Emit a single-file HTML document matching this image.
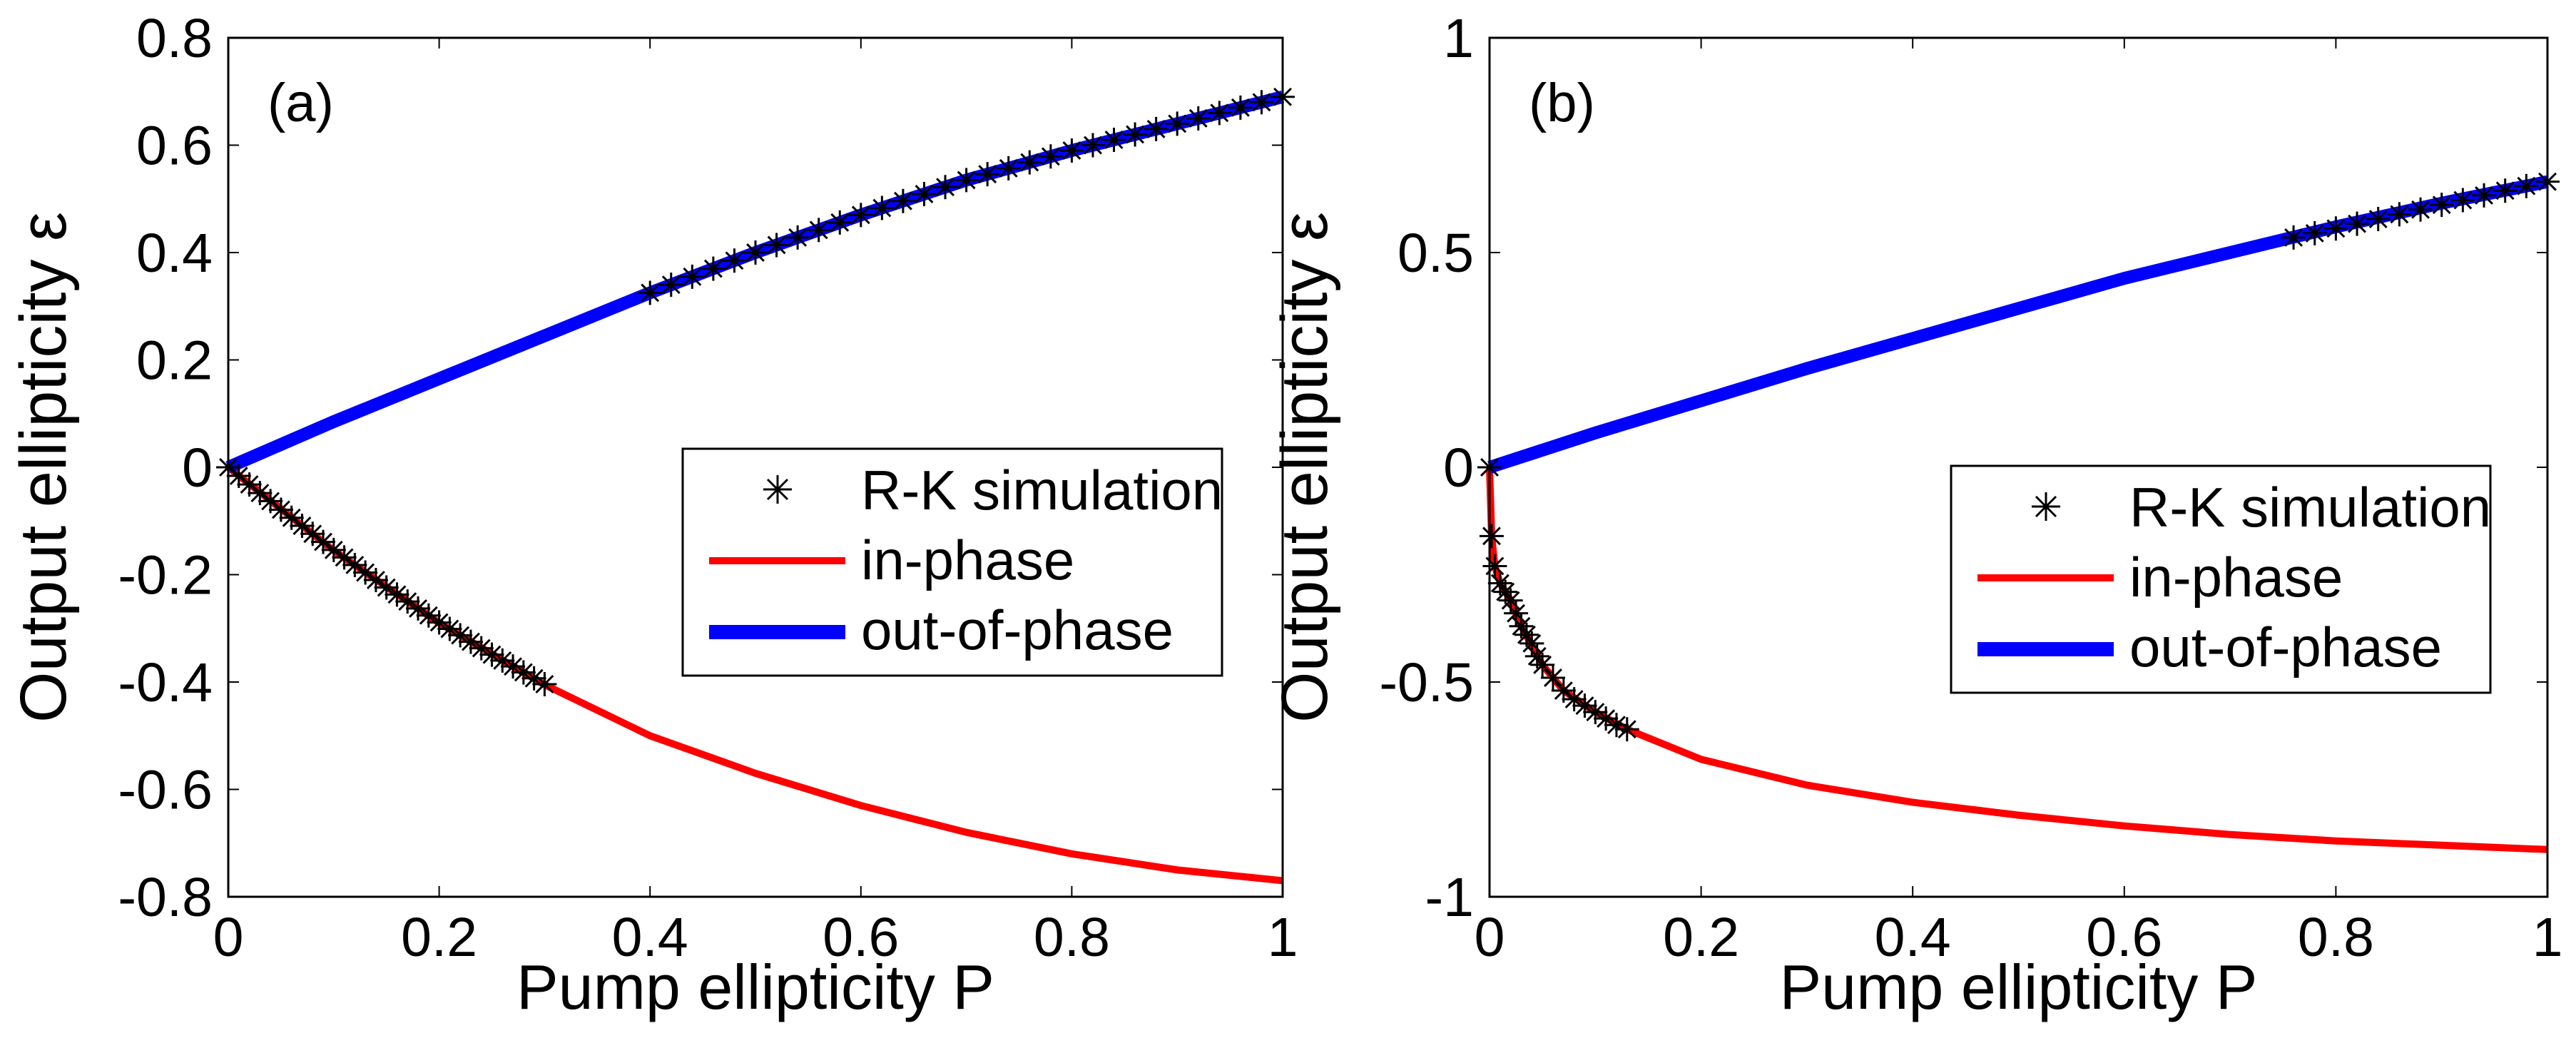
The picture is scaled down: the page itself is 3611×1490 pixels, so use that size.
<!DOCTYPE html>
<html><head><meta charset="utf-8"><style>
html,body{margin:0;padding:0;background:#fff;}
svg{display:block;font-family:"Liberation Sans",Arial,sans-serif;}
</style></head><body>
<svg id="fig" width="3611" height="1490" viewBox="0 0 3611 1490" xmlns="http://www.w3.org/2000/svg">
<rect width="3611" height="1490" fill="#fff"/>
<g id="pa"></g>
<g id="pb"></g>
</svg>
<script>
// ---- data: panel (a)
const aXTicks = [0,0.2,0.4,0.6,0.8,1];
const aXTickLabels = ["0","0.2","0.4","0.6","0.8","1"];
const aYTicks = [-0.8,-0.6,-0.4,-0.2,0,0.2,0.4,0.6,0.8];
const aYTickLabels = ["-0.8","-0.6","-0.4","-0.2","0","0.2","0.4","0.6","0.8"];
const aLineX = [0,0.1,0.2,0.3,0.4,0.5,0.6,0.7,0.8,0.9,1.0];
const aInPhase = [0,-0.155,-0.29,-0.405,-0.5,-0.57,-0.63,-0.68,-0.72,-0.75,-0.77];
const aOutPhase = [0,0.085,0.165,0.245,0.325,0.40,0.47,0.535,0.59,0.64,0.69];
const aRkLowX = [0,.01,.02,.03,.04,.05,.06,.07,.08,.09,.10,.11,.12,.13,.14,.15,.16,.17,.18,.19,.20,.21,.22,.23,.24,.25,.26,.27,.28,.29,.30];
const aRkLowY = [0,-.016,-.032,-.048,-.063,-.079,-.094,-.109,-.124,-.139,-.154,-.168,-.182,-.196,-.210,-.224,-.237,-.250,-.263,-.276,-.289,-.301,-.313,-.325,-.337,-.349,-.360,-.371,-.382,-.393,-.404];
const aRkHighX = [.40,.42,.44,.46,.48,.50,.52,.54,.56,.58,.60,.62,.64,.66,.68,.70,.72,.74,.76,.78,.80,.82,.84,.86,.88,.90,.92,.94,.96,.98,1.00];
const aRkHighY = [.325,.340,.355,.370,.385,.40,.414,.428,.442,.456,.47,.483,.496,.509,.522,.535,.546,.557,.568,.579,.59,.60,.61,.62,.63,.64,.65,.66,.67,.68,.69];
// ---- data: panel (b)
const bXTicks = [0,0.2,0.4,0.6,0.8,1];
const bXTickLabels = ["0","0.2","0.4","0.6","0.8","1"];
const bYTicks = [-1,-0.5,0,0.5,1];
const bYTickLabels = ["-1","-0.5","0","0.5","1"];
const bInX = [0,0.002,0.005,0.01,0.02,0.03,0.05,0.07,0.1,0.13,0.2,0.3,0.4,0.5,0.6,0.7,0.8,0.9,1.0];
const bInPhase = [0,-0.16,-0.23,-0.27,-0.31,-0.37,-0.46,-0.52,-0.57,-0.61,-0.68,-0.74,-0.78,-0.81,-0.835,-0.855,-0.87,-0.88,-0.89];
const bOutX = [0,0.1,0.2,0.3,0.4,0.5,0.6,0.7,0.8,0.9,1.0];
const bOutPhase = [0,0.08,0.155,0.23,0.30,0.37,0.44,0.50,0.56,0.615,0.665];
const bRkLowX = [0,.002,.005,.01,.015,.02,.025,.03,.035,.04,.045,.05,.06,.07,.08,.09,.10,.11,.12,.13];
const bRkLowY = [0,-.16,-.23,-.27,-.29,-.31,-.34,-.37,-.39,-.41,-.44,-.46,-.49,-.52,-.54,-.555,-.57,-.585,-.60,-.61];
const bRkHighX = [.76,.78,.80,.82,.84,.86,.88,.90,.92,.94,.96,.98,1.00];
const bRkHighY = [.535,.545,.556,.567,.578,.589,.60,.611,.622,.633,.644,.655,.665];

const NS = "http://www.w3.org/2000/svg";
function mk(parent, tag, attrs){const e=document.createElementNS(NS,tag);for(const k in attrs)e.setAttribute(k,attrs[k]);parent.appendChild(e);return e;}

function star(g, cx, cy, r, sw){
  return mk(g,'path',{d:`M${cx-r},${cy}H${cx+r}M${cx},${cy-r}V${cy+r}M${cx-r*0.7},${cy-r*0.7}L${cx+r*0.7},${cy+r*0.7}M${cx-r*0.7},${cy+r*0.7}L${cx+r*0.7},${cy-r*0.7}`,stroke:'#000','stroke-width':sw,fill:'none'});
}

function panel(g, cfg){
  const L=cfg.L,R=cfg.R,T=53,B=1257;
  const sx=v=>L+(v-cfg.x0)/(cfg.x1-cfg.x0)*(R-L);
  const sy=v=>B-(v-cfg.y0)/(cfg.y1-cfg.y0)*(B-T);
  const red = mk(g,'polyline',{points:cfg.inX.map((x,i)=>sx(x)+','+sy(cfg.inY[i])).join(' '),fill:'none',stroke:'#ff0000','stroke-width':10,'stroke-linejoin':'round'});
  
  
  const blue = mk(g,'polyline',{points:cfg.outX.map((x,i)=>sx(x)+','+sy(cfg.outY[i])).join(' '),fill:'none',stroke:'#0000ff','stroke-width':18,'stroke-linejoin':'round'});
  
  
  const sg = mk(g,'g',{});
  
  
  cfg.rkLowX.forEach((x,i)=>{const s=star(sg,sx(x),sy(cfg.rkLowY[i]),17,3);
    
    });
  cfg.rkHighX.forEach((x,i)=>{const s=star(sg,sx(x),sy(cfg.rkHighY[i]),17,3);
    
    });
  const box = mk(g,'rect',{x:L,y:T,width:R-L,height:B-T,fill:'none',stroke:'#000','stroke-width':3});
  
  
  cfg.xt.forEach((v,i)=>{const x=sx(v);
    mk(g,'path',{d:`M${x},${B}V${B-15}M${x},${T}V${T+15}`,stroke:'#000','stroke-width':2});
    const t=mk(g,'text',{x:x,y:1340,'font-size':77,'text-anchor':'middle',fill:'#000'});t.textContent=cfg.xtl[i];
    
    });
  cfg.yt.forEach((v,i)=>{const y=sy(v);
    mk(g,'path',{d:`M${L},${y}H${L+15}M${R},${y}H${R-15}`,stroke:'#000','stroke-width':2});
    const t=mk(g,'text',{x:L-22,y:y+27,'font-size':77,'text-anchor':'end',fill:'#000'});t.textContent=cfg.ytl[i];
    
    });
  const xt=mk(g,'text',{x:(L+R)/2,y:1414,'font-size':88,'text-anchor':'middle',fill:'#000'});xt.textContent='Pump ellipticity P';
  
  
  const yt=mk(g,'text',{x:0,y:0,'font-size':92,'text-anchor':'middle',fill:'#000',transform:`translate(${L-228},${(T+B)/2}) rotate(-90)`});yt.textContent='Output ellipticity ε';
  
  
  const pl=mk(g,'text',{x:L+55,y:170,'font-size':76,fill:'#000'});pl.textContent=cfg.label;
  
  
  const lg=mk(g,'g',{});
  
  
  const lx=cfg.legX, ly=cfg.legY;
  mk(lg,'rect',{x:lx,y:ly,width:756,height:318,fill:'#fff',stroke:'#000','stroke-width':3});
  star(lg,lx+133,ly+57,20,3);
  mk(lg,'rect',{x:lx+37,y:ly+152,width:191,height:10,fill:'#ff0000'});
  mk(lg,'rect',{x:lx+37,y:ly+247,width:191,height:20,fill:'#0000ff'});
  const names=['R-K simulation','in-phase','out-of-phase'];
  names.forEach((n,i)=>{const t=mk(lg,'text',{x:lx+250,y:ly+85+i*98,'font-size':78,fill:'#000'});t.textContent=n;
    
    });
}

panel(document.getElementById('pa'),{L:320,R:1798,x0:0,x1:1,y0:-0.8,y1:0.8,
  inX:aLineX,inY:aInPhase,outX:aLineX,outY:aOutPhase,
  rkLowX:aRkLowX,rkLowY:aRkLowY,rkHighX:aRkHighX,rkHighY:aRkHighY,
  xt:aXTicks,xtl:aXTickLabels,yt:aYTicks,ytl:aYTickLabels,label:'(a)',legX:957,legY:629});
panel(document.getElementById('pb'),{L:2088,R:3571,x0:0,x1:1,y0:-1,y1:1,
  inX:bInX,inY:bInPhase,outX:bOutX,outY:bOutPhase,
  rkLowX:bRkLowX,rkLowY:bRkLowY,rkHighX:bRkHighX,rkHighY:bRkHighY,
  xt:bXTicks,xtl:bXTickLabels,yt:bYTicks,ytl:bYTickLabels,label:'(b)',legX:2735,legY:653});
</script>
</body></html>
